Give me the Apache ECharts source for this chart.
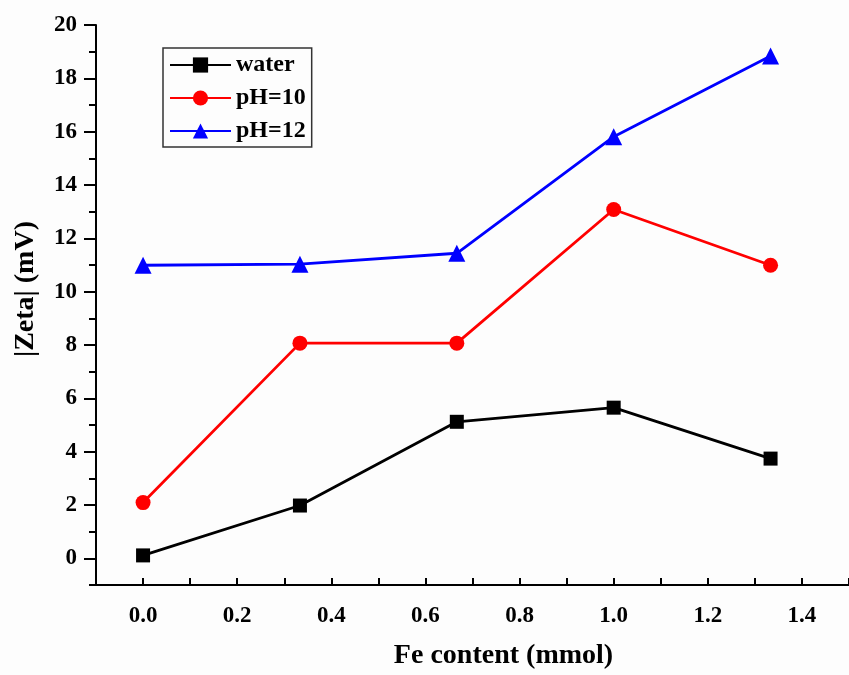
<!DOCTYPE html>
<html>
<head>
<meta charset="utf-8">
<script src="https://cdn.jsdelivr.net/npm/echarts@6/dist/echarts.min.js"></script>
<style>html,body{margin:0;padding:0;background:#fdfdfd;}#c{width:849px;height:675px;}</style>
</head>
<body>
<div id="c"></div>
<script>
const feContent = [0, 1/3, 2/3, 1, 4/3];
const seriesNames = ['water', 'pH=10', 'pH=12'];
const waterVals = [0.11, 1.98, 5.12, 5.65, 3.74];
const ph10Vals = [2.09, 8.07, 8.07, 13.08, 10.99];
const ph12Vals = [10.99, 11.03, 11.44, 15.81, 18.84];
const yTicks = [0, 2, 4, 6, 8, 10, 12, 14, 16, 18, 20];
const yMinorTicks = [-1, 1, 3, 5, 7, 9, 11, 13, 15, 17, 19];
const xTicks = [0, 0.2, 0.4, 0.6, 0.8, 1.0, 1.2, 1.4];
const xName = 'Fe content (mmol)';
const yName = '|Zeta| (mV)';

const font = 'Liberation Serif';
const pair = (xs, ys) => xs.map((x, i) => [x, ys[i]]);

const chart = echarts.init(document.getElementById('c'));
chart.setOption({
  backgroundColor: '#fdfdfd',
  animation: false,
  grid: { left: 96, right: -2, top: 25, bottom: 88, containLabel: false },
  legend: {
    orient: 'vertical', left: 163, top: 48,
    padding: [5, 6, 4, 6], itemGap: 9,
    itemWidth: 61, itemHeight: 19,
    borderColor: '#333', borderWidth: 1.5,
    textStyle: { fontFamily: font, fontWeight: 'bold', fontSize: 24, color: '#000', lineHeight: 24 },
    data: seriesNames
  },
  xAxis: {
    type: 'value', min: -0.1, max: 1.5, interval: 0.1,
    name: xName, nameLocation: 'middle', nameGap: 57,
    nameTextStyle: { fontFamily: font, fontWeight: 'bold', fontSize: 28, color: '#000', padding: [0, 0, 0, 62] },
    axisLine: { onZero: false, lineStyle: { color: '#000', width: 2 } },
    axisTick: { inside: true, length: 7, lineStyle: { color: '#000', width: 2 } },
    axisLabel: {
      customValues: xTicks, margin: 20,
      fontFamily: font, fontWeight: 'bold', fontSize: 23, color: '#000',
      formatter: v => v.toFixed(1)
    },
    splitLine: { show: false }
  },
  yAxis: [{
    type: 'value', min: -1, max: 20,
    name: yName, nameLocation: 'middle', nameGap: 56,
    nameTextStyle: { fontFamily: font, fontWeight: 'bold', fontSize: 28, color: '#000', padding: [0, 0, 0, 32] },
    axisLine: { show: true, onZero: false, lineStyle: { color: '#000', width: 2 } },
    axisTick: { customValues: yTicks, length: 12, lineStyle: { color: '#000', width: 2 } },
    axisLabel: { customValues: yTicks, margin: 19, fontFamily: font, fontWeight: 'bold', fontSize: 23, color: '#000' },
    splitLine: { show: false }
  }, {
    type: 'value', min: -1, max: 20, position: 'left', offset: 0,
    axisLine: { show: false, onZero: false },
    axisTick: { show: true, customValues: yMinorTicks, length: 7, lineStyle: { color: '#000', width: 2 } },
    axisLabel: { show: false },
    splitLine: { show: false }
  }],
  series: [
    { name: seriesNames[0], type: 'line', data: pair(feContent, waterVals), symbol: 'rect', symbolSize: 14,
      color: '#000000', lineStyle: { width: 2.8 }, itemStyle: { color: '#000000' } },
    { name: seriesNames[1], type: 'line', data: pair(feContent, ph10Vals), symbol: 'circle', symbolSize: 15,
      color: '#ff0000', lineStyle: { width: 2.8 }, itemStyle: { color: '#ff0000' } },
    { name: seriesNames[2], type: 'line', data: pair(feContent, ph12Vals), symbol: 'triangle', symbolSize: 17,
      color: '#0000ff', lineStyle: { width: 2.8 }, itemStyle: { color: '#0000ff' } }
  ]
});
</script>
</body>
</html>
